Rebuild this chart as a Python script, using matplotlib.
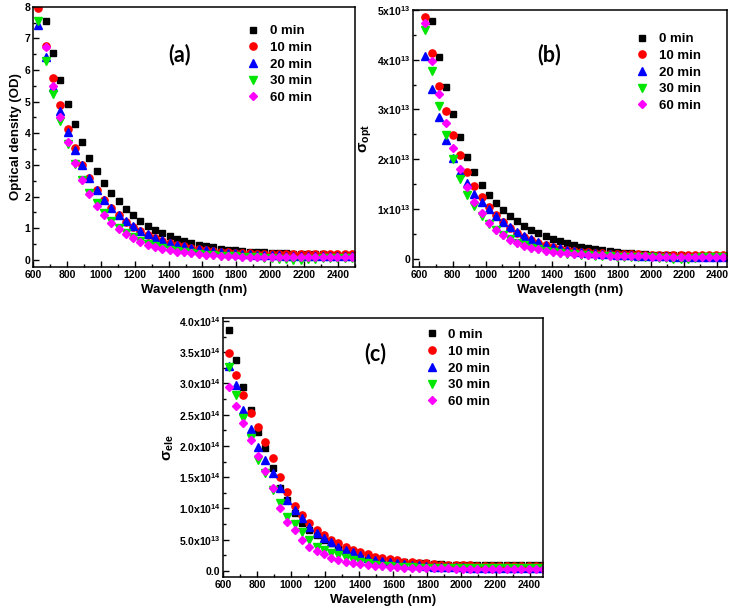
import matplotlib
matplotlib.use("Agg")
import matplotlib.pyplot as plt
import numpy as np
from matplotlib.ticker import MultipleLocator, FixedLocator, FixedFormatter

plt.rcParams['font.family'] = ['Liberation Sans', 'DejaVu Sans']
plt.rcParams['font.weight'] = 'bold'
plt.rcParams['mathtext.fontset'] = 'custom'
plt.rcParams['mathtext.rm'] = 'Liberation Sans:bold'
plt.rcParams['mathtext.bf'] = 'Liberation Sans:bold'
plt.rcParams['mathtext.it'] = 'Liberation Sans:bold'
plt.rcParams['mathtext.default'] = 'bf'

nan = np.nan

# wavelength grid (nm)
wl = [632, 675, 718, 761, 804, 847, 890, 933, 976, 1019, 1062, 1105, 1148, 1191,
      1234, 1277, 1320, 1363, 1406, 1449, 1492, 1535, 1578, 1621, 1664, 1707, 1750,
      1793, 1836, 1879, 1922, 1965, 2008, 2051, 2094, 2137, 2180, 2223, 2266, 2309,
      2352, 2395, 2438, 2481]

labels = ['0 min', '10 min', '20 min', '30 min', '60 min']

# (a) optical density
od_0 = [nan, 7.55, 6.55, 5.68, 4.93, 4.28, 3.72, 3.22, 2.80, 2.43,
        2.12, 1.85, 1.62, 1.42, 1.24, 1.08, .95, .84, .74, .66,
        .59, .53, .47, .43, .39, .35, .32, .30, .28, .26,
        .24, .23, .22, .21, .20, .19, .18, .18, .17, .17, .16, .16, .15, .15]
od_10 = [7.95, 6.75, 5.75, 4.88, 4.15, 3.53, 3.01, 2.57, 2.21, 1.90,
         1.63, 1.40, 1.21, 1.05, .91, .79, .69, .60, .53, .47,
         .42, .37, .33, .30, .27, .25, .23, .22, .21, .20,
         .19, .19, .18, .18, .18, .18, .18, .18, .18, .18, .17, .17, .17, .17]
od_20 = [7.42, 6.40, 5.45, 4.70, 4.05, 3.48, 3.00, 2.57, 2.21, 1.90,
         1.64, 1.41, 1.22, 1.06, .92, .80, .70, .61, .54, .48,
         .43, .38, .34, .30, .27, .24, .22, .20, .18, .17,
         .16, .15, .14, .14, .13, .13, .13, .12, .12, .12, .12, .12, .12, .12]
od_30 = [7.55, 6.30, 5.25, 4.38, 3.65, 3.04, 2.53, 2.12, 1.78, 1.48,
         1.23, 1.02, .86, .72, .60, .50, .42, .36, .31, .27,
         .23, .20, .18, .16, .14, .13, .12, .11, .10, .09,
         .08, .07, .06, .04, .02, 0, 0, .02, .04, .05, .05, .05, .05, .05]
od_60 = [nan, 6.72, 5.50, 4.52, 3.72, 3.05, 2.52, 2.07, 1.70, 1.40,
         1.16, .97, .81, .68, .57, .48, .41, .35, .30, .26,
         .23, .20, .18, .16, .14, .13, .12, .11, .10, .09,
         .09, .08, .08, .08, .08, .08, .08, .08, .08, .08, .08, .08, .08, .08]

# (b) optical conductivity, units of 1e13
opt_0 = [nan, 4.77, 4.05, 3.45, 2.90, 2.44, 2.05, 1.74, 1.49, 1.29,
         1.12, .97, .85, .75, .66, .58, .51, .45, .40, .35,
         .31, .27, .24, .21, .19, .17, .15, .13, .12, .11,
         .10, .09, .08, .08, .07, .07, .07, .06, .06, .06, .06, .06, .05, .05]
opt_10 = [4.85, 4.13, 3.48, 2.97, 2.49, 2.09, 1.75, 1.47, 1.24, 1.04,
          .87, .73, .61, .52, .44, .37, .32, .27, .23, .20,
          .18, .16, .14, .13, .12, .11, .10, .10, .09, .09,
          .09, .08, .08, .08, .08, .08, .08, .08, .08, .08, .08, .08, .08, .08]
opt_20 = [4.08, 3.41, 2.85, 2.39, 2.03, 1.74, 1.52, 1.31, 1.14, 1.00,
          .86, .74, .63, .54, .46, .39, .33, .28, .24, .21,
          .18, .16, .14, .12, .11, .10, .09, .08, .07, .07,
          .06, .06, .05, .05, .05, .04, .04, .04, .04, .04, .04, .04, .04, .04]
opt_30 = [4.60, 3.78, 3.07, 2.48, 2.00, 1.60, 1.28, 1.05, .85, .70,
          .58, .47, .39, .32, .27, .22, .19, .16, .14, .12,
          .10, .09, .08, .07, .06, .05, .05, .04, .04, .04,
          .03, .03, .03, .02, .01, 0, -.01, 0, .02, .03, .03, .03, .03, .03]
opt_60 = [4.73, 3.97, 3.31, 2.73, 2.23, 1.80, 1.45, 1.15, .91, .72,
          .58, .47, .38, .31, .26, .22, .19, .16, .14, .12,
          .11, .10, .09, .08, .07, .07, .06, .06, .05, .05,
          .05, .05, .04, .04, .04, .04, .04, .04, .04, .04, .04, .04, .04, .04]

# (c) electrical conductivity, units of 1e14
ele_0 = [3.85, 3.37, 2.94, 2.57, 2.23, 1.96, 1.65, 1.33, 1.13, .92,
         .77, .65, .57, .50, .45, .38, .34, .30, .25, .22,
         .20, .18, .165, .15, .14, .13, .12, .12, .11, .11,
         .10, .10, .10, .10, .09, .09, .09, .09, .09, .09, .09, .09, .09, .09]
ele_10 = [3.48, 3.13, 2.81, 2.53, 2.30, 2.06, 1.80, 1.50, 1.26, 1.04,
          .89, .77, .65, .57, .50, .45, .38, .34, .30, .27,
          .23, .21, .19, .17, .15, .14, .13, .12, .11, .10,
          .10, .09, .09, .09, .08, .08, .08, .08, .08, .08, .08, .08, .08, .08]
ele_20 = [3.28, 2.97, 2.58, 2.27, 1.98, 1.78, 1.57, 1.33, 1.14, .97,
          .84, .71, .60, .53, .46, .39, .34, .30, .25, .21,
          .18, .16, .14, .12, .11, .10, .09, .08, .07, .07,
          .06, .06, .06, .05, .05, .05, .05, .05, .05, .05, .05, .05, .05, .05]
ele_30 = [3.26, 2.81, 2.44, 2.12, 1.77, 1.56, 1.30, 1.08, .87, .75,
          .62, .50, .39, .34, .29, .25, .21, .18, .14, .12,
          .10, .085, .075, .07, .065, .06, .055, .05, .05, .045,
          .045, .04, .04, .04, .04, .04, .04, .04, .04, .04, .04, .04, .04, .04]
ele_60 = [2.95, 2.64, 2.36, 2.09, 1.84, 1.60, 1.32, 1.01, .78, .65,
          .50, .39, .32, .27, .21, .18, .14, .13, .11, .09,
          .08, .075, .065, .06, .055, .05, .05, .045, .04, .04,
          .04, .035, .035, .03, .03, .03, .03, .03, .03, .03, .03, .03, .03, .03]

styles = [('s', '#000000'), ('o', '#ff0000'), ('^', '#0000ff'),
          ('v', '#00e600'), ('D', '#ff00ff')]
sizes = [4.6, 5.2, 5.2, 5.2, 4.3]

x_ticks = [600, 800, 1000, 1200, 1400, 1600, 1800, 2000, 2200, 2400]
b_ticks = [0, 1e13, 2e13, 3e13, 4e13, 5e13]
b_labels = ['0', '1x10$^{13}$', '2x10$^{13}$', '3x10$^{13}$', '4x10$^{13}$', '5x10$^{13}$']
c_ticks = [0, 0.5e14, 1e14, 1.5e14, 2e14, 2.5e14, 3e14, 3.5e14, 4e14]
c_labels = ['0.0', '5.0x10$^{13}$', '1.0x10$^{14}$', '1.5x10$^{14}$', '2.0x10$^{14}$',
            '2.5x10$^{14}$', '3.0x10$^{14}$', '3.5x10$^{14}$', '4.0x10$^{14}$']

fig = plt.figure(figsize=(7.32, 6.16), dpi=100)


def panel(rect, series, scale, xlim, ylim, ylabel, ylsize, tag, tag_pos, leg_pos):
    ax = fig.add_axes(rect)
    for (m, c), ms, vals, lab in zip(styles, sizes, series, labels):
        ax.plot(wl, np.array(vals) * scale, linestyle='none', marker=m, color=c,
                ms=ms, mec=c, label=lab)
    ax.set_xlim(*xlim)
    ax.set_ylim(*ylim)
    ax.xaxis.set_major_locator(FixedLocator(x_ticks))
    ax.xaxis.set_minor_locator(MultipleLocator(100))
    ax.tick_params(which='both', direction='in', top=False, right=False,
                   labelsize=7.5, width=1, pad=2)
    ax.tick_params(which='major', length=4)
    ax.tick_params(which='minor', length=2)
    for s in ax.spines.values():
        s.set_linewidth(1.1)
    ax.set_xlabel('Wavelength (nm)', fontsize=9.5, fontweight='bold', labelpad=3)
    ax.set_ylabel(ylabel, fontsize=ylsize, fontweight='bold', labelpad=2)
    ax.text(tag_pos[0], tag_pos[1], tag, transform=ax.transAxes, fontsize=15.5,
            fontweight='bold', family=['Lato', 'DejaVu Sans'], ha='center', va='center')
    ax.legend(loc='upper left', bbox_to_anchor=leg_pos, frameon=False,
              fontsize=9.5, handlelength=1.0, handletextpad=0.75,
              labelspacing=0.34, borderpad=0, borderaxespad=0)
    return ax


ax_a = panel([0.045, 0.567, 0.44, 0.422], [od_0, od_10, od_20, od_30, od_60], 1,
             (600, 2500), (-0.22, 8.0), 'Optical density (OD)', 9.5, '(a)',
             (0.456, 0.815), (0.663, 0.93))
ax_a.yaxis.set_major_locator(MultipleLocator(1))
ax_a.yaxis.set_minor_locator(MultipleLocator(0.5))

ax_b = panel([0.564, 0.567, 0.429, 0.417], [opt_0, opt_10, opt_20, opt_30, opt_60], 1e13,
             (560, 2460), (-0.16e13, 5e13), r'$\sigma_{opt}$', 11, '(b)',
             (0.433, 0.825), (0.71, 0.91))
ax_b.yaxis.set_major_locator(FixedLocator(b_ticks))
ax_b.yaxis.set_major_formatter(FixedFormatter(b_labels))
ax_b.yaxis.set_minor_locator(MultipleLocator(0.5e13))

ax_c = panel([0.305, 0.063, 0.437, 0.42], [ele_0, ele_10, ele_20, ele_30, ele_60], 1e14,
             (600, 2480), (-0.1e14, 4.04e14), r'$\sigma_{ele}$', 11, '(c)',
             (0.475, 0.865), (0.631, 0.96))
ax_c.yaxis.set_major_locator(FixedLocator(c_ticks))
ax_c.yaxis.set_major_formatter(FixedFormatter(c_labels))
ax_c.yaxis.set_minor_locator(MultipleLocator(0.25e14))

fig.savefig('out.png', dpi=100)
